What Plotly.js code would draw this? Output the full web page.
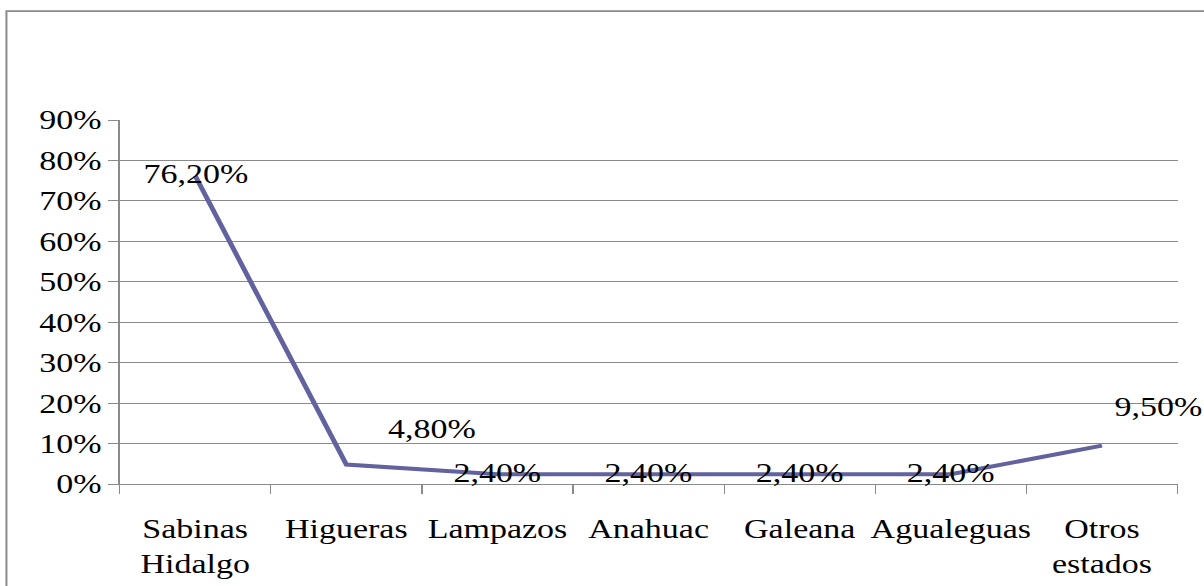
<!DOCTYPE html>
<html>
<head>
<meta charset="utf-8">
<script src="https://cdn.plot.ly/plotly-3.0.1.min.js"></script>
<style>
html,body{margin:0;padding:0;background:#fff;overflow:hidden;}
#wrap{width:1204px;height:586px;overflow:hidden;}
#chart{width:956px;height:586px;transform-origin:0 0;transform:scale(1.2594,1);}
</style>
</head>
<body>
<div id="wrap"><div id="chart"></div></div>
<script>
const categories = ["Sabinas<br>Hidalgo", "Higueras", "Lampazos", "Anahuac", "Galeana", "Agualeguas", "Otros<br>estados"];
const values = [0.762, 0.048, 0.024, 0.024, 0.024, 0.024, 0.095];
const valueLabels = ["76,20%", "4,80%", "2,40%", "2,40%", "2,40%", "2,40%", "9,50%"];
const yTickVals = [0, 0.1, 0.2, 0.3, 0.4, 0.5, 0.6, 0.7, 0.8, 0.9];
const yTickText = ["0%", "10%", "20%", "30%", "40%", "50%", "60%", "70%", "80%", "90%"];

// horizontal stretch of the original rendering
const SX = 1204 / 956;
const labelShifts = [[0, 2], [86, 36], [0, 1], [0, 1], [0, 1], [0, 1], [57, 39]];

const font = {family: "Liberation Serif", size: 27, color: "#000"};
const gray = "#8a8a8a";

const trace = {
  x: categories,
  y: values,
  type: "scatter",
  mode: "lines",
  line: {color: "#62629e", width: 4},
  hoverinfo: "skip"
};

const annotations = categories.map((c, i) => ({
  x: c, y: values[i], xref: "x", yref: "y",
  text: valueLabels[i], showarrow: false,
  xshift: labelShifts[i][0] / SX, yshift: labelShifts[i][1],
  font: font
}));

const layout = {
  width: 956, height: 586,
  margin: {l: 120 / SX, r: 27 / SX, t: 119.5, b: 102},
  paper_bgcolor: "#fff", plot_bgcolor: "#fff",
  showlegend: false,
  font: font,
  xaxis: {
    type: "category",
    range: [-0.5, 6.5],
    tickson: "boundaries",
    tickangle: 0,
    automargin: false,
    ticks: "outside", ticklen: 9, tickcolor: gray, tickwidth: 1,
    showline: true, linecolor: gray, linewidth: 1,
    showgrid: false, zeroline: false,
    ticklabelstandoff: 21,
    tickfont: font,
    fixedrange: true
  },
  yaxis: {
    range: [0, 0.9],
    tickvals: yTickVals, ticktext: yTickText,
    ticks: "outside", ticklen: 10 / SX, tickcolor: gray, tickwidth: 1,
    showline: true, linecolor: gray, linewidth: 1,
    showgrid: true, gridcolor: gray, gridwidth: 1,
    zeroline: false,
    automargin: false,
    ticklabelstandoff: 21 / SX,
    tickfont: font,
    fixedrange: true
  },
  annotations: annotations,
  shapes: [{
    type: "rect", xref: "paper", yref: "paper",
    x0: -0.107, x1: 1.2, y0: -0.6, y1: 1.299,
    line: {color: "#8a8a8a", width: 1.6}, fillcolor: "rgba(0,0,0,0)",
    layer: "below"
  }]
};

Plotly.newPlot("chart", [trace], layout, {displayModeBar: false, staticPlot: true});
</script>
</body>
</html>
